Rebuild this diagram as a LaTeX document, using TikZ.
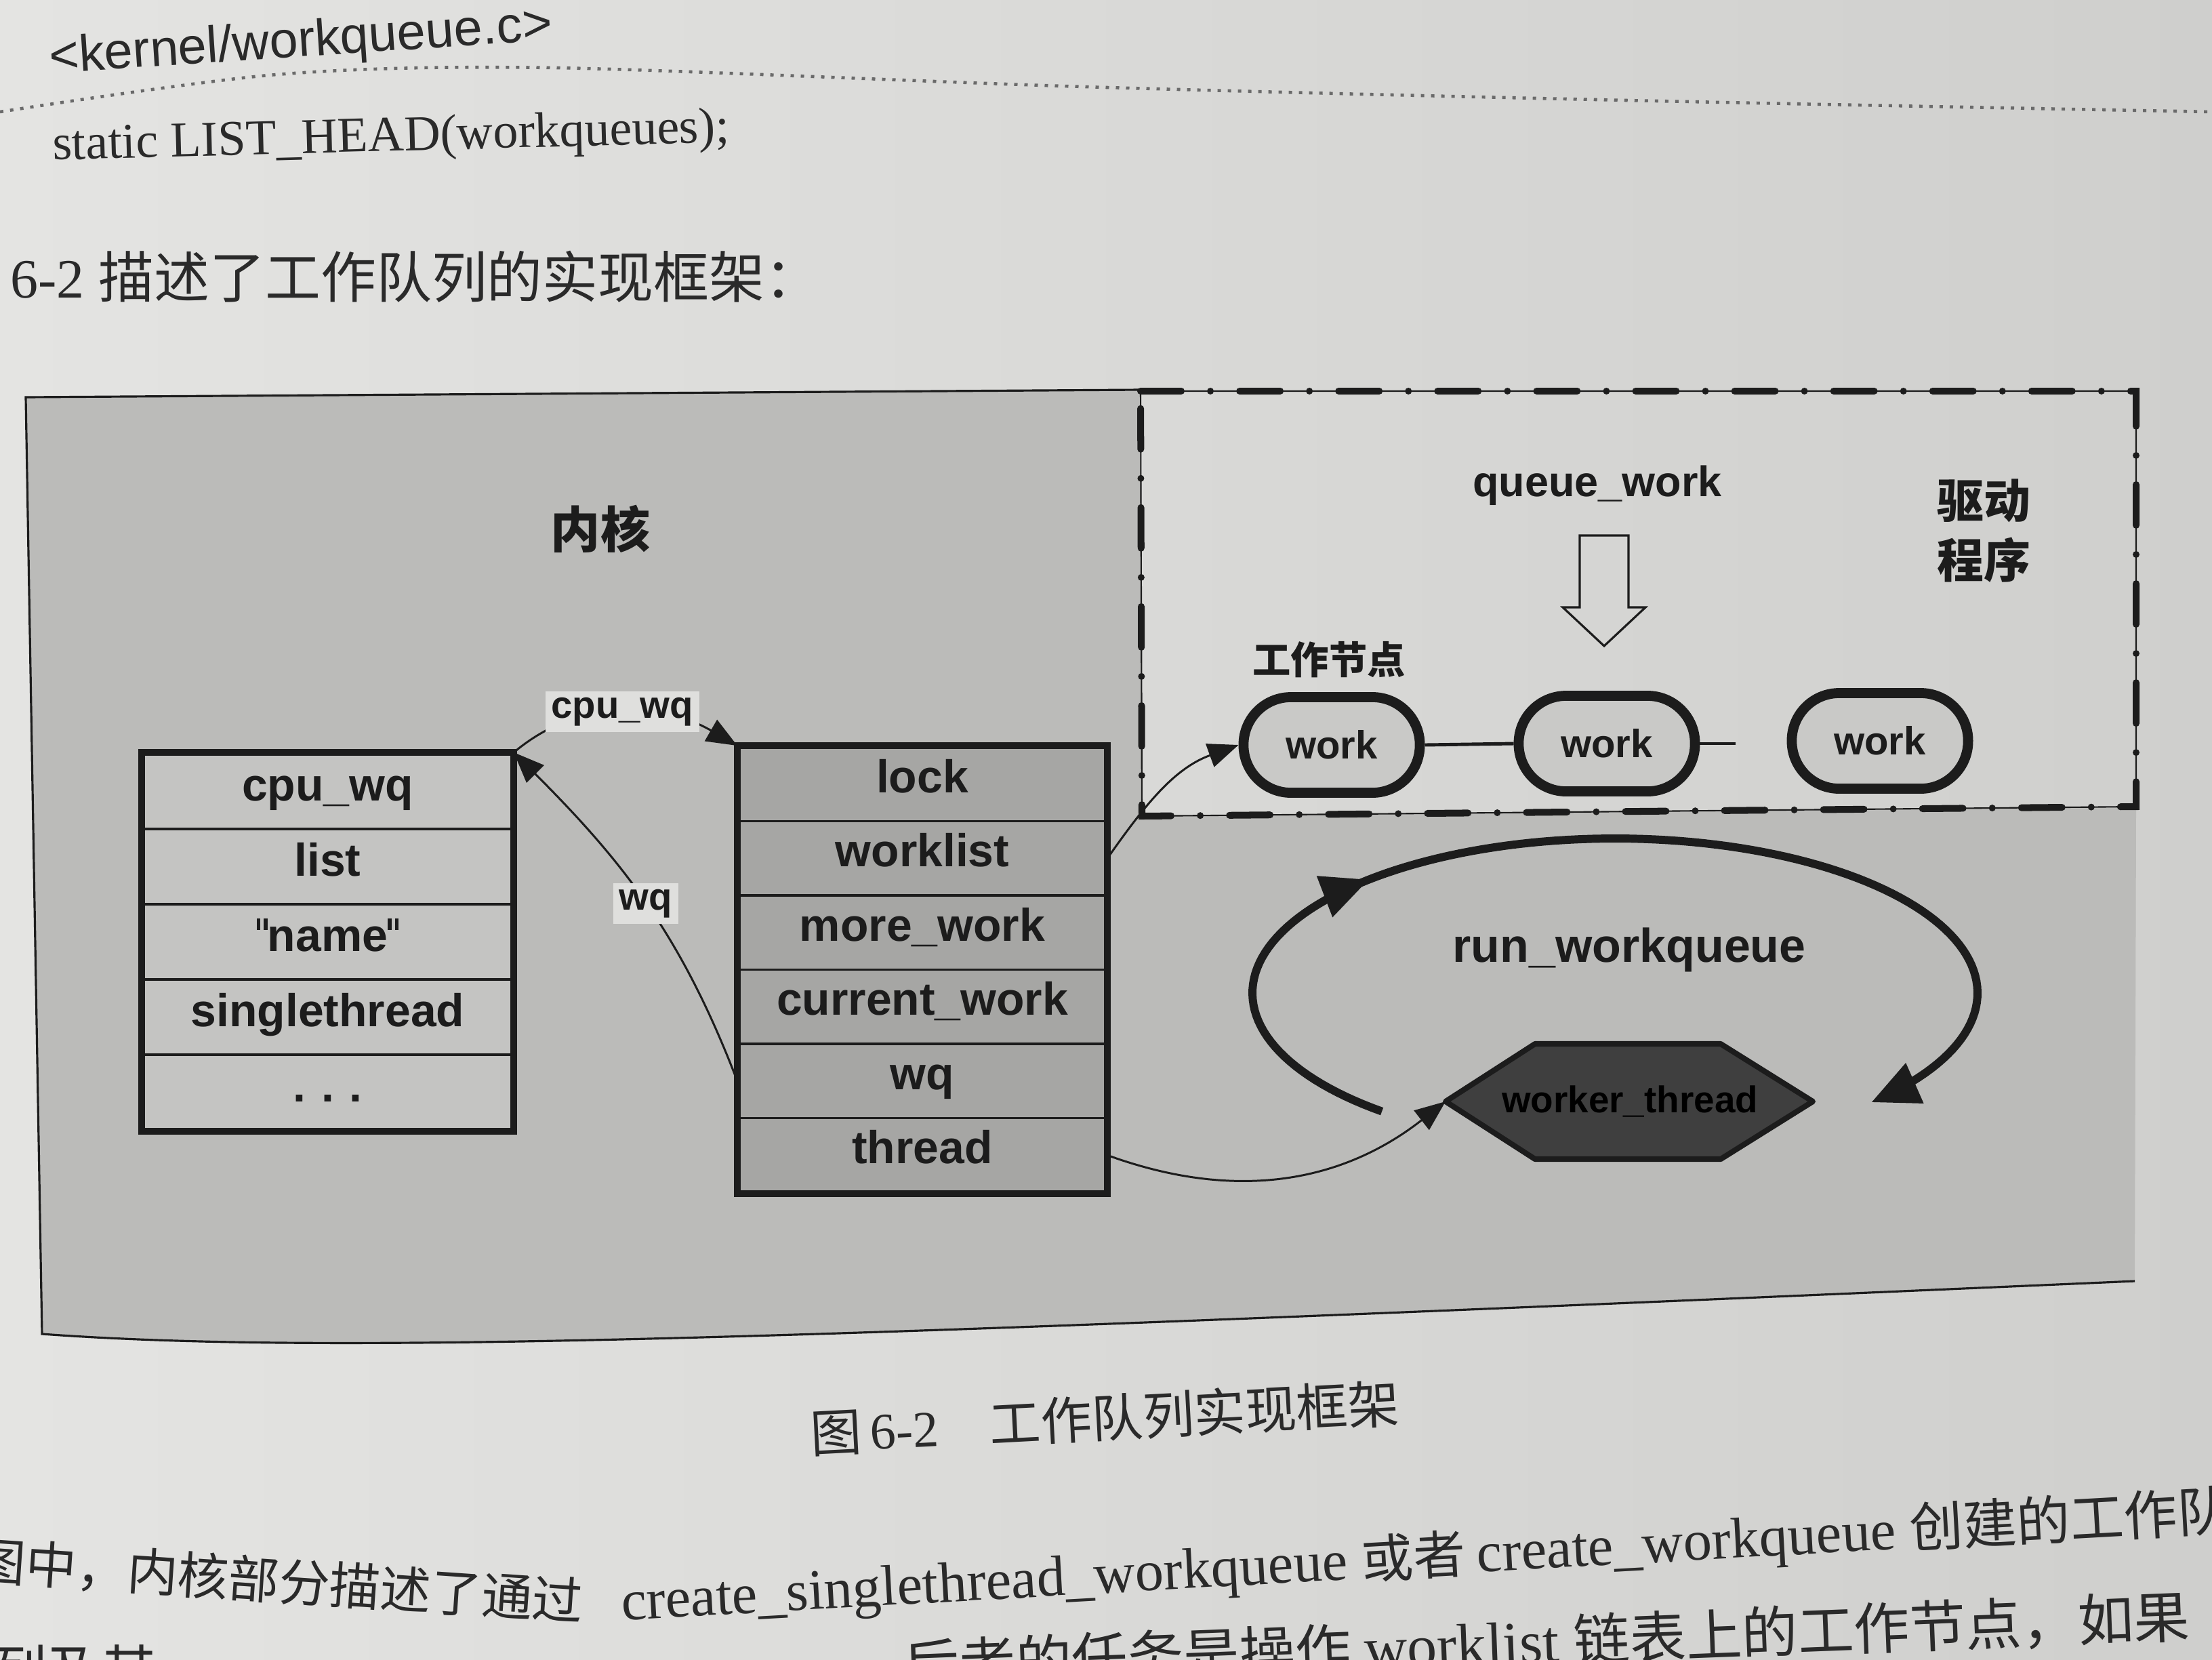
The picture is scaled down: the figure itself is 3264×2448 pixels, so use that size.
\documentclass[tikz,border=0pt]{standalone}
\usepackage{fontspec}
\setmainfont{Liberation Sans}
\newfontfamily\cjk{Noto Sans CJK SC}
\newfontfamily\serifrm{Liberation Serif}
\usetikzlibrary{arrows.meta,calc,decorations.markings}

\definecolor{paperL}{HTML}{E4E4E2}
\definecolor{paperR}{HTML}{CFCFCD}
\definecolor{kernelgray}{HTML}{BBBBB9}
\definecolor{structgray}{HTML}{C4C4C2}
\definecolor{cpugray}{HTML}{A6A6A4}
\definecolor{workgray}{HTML}{C9C9C7}
\definecolor{threadgray}{HTML}{3F3F3F}
\definecolor{labelbg}{HTML}{DFDFDD}
\definecolor{ink}{HTML}{1C1C1C}
\definecolor{printink}{HTML}{2A2A2A}

% straight double quote, drawn as two short bars
\newcommand\straightquote{\rule[0.47em]{0.085em}{0.25em}\hspace{0.07em}\rule[0.47em]{0.085em}{0.25em}}

\begin{document}
\begin{tikzpicture}[x=0.01cm, y=-0.01cm,
  rowL/.style={draw=ink, line width=1.1pt, fill=structgray,
    minimum width=5.45cm, minimum height=1.11cm, inner sep=0pt, text=ink,
    font=\fontsize{19.3pt}{23pt}\selectfont\bfseries,
    text height=1.02em, text depth=0.2em},
  rowR/.style={rowL, fill=cpugray, minimum width=5.42cm, minimum height=1.095cm,
    text height=0.9em, text depth=0.2em},
  workbox/.style={draw=ink, line width=4.2pt, fill=workgray, rounded corners=0.7cm,
    minimum width=2.6cm, minimum height=1.41cm, inner sep=0pt, text=ink,
    font=\fontsize{16.5pt}{20pt}\selectfont\bfseries},
  ptr/.style={draw=ink, line width=0.85pt, -{Triangle[length=0.45cm,width=0.36cm]}},
  tag/.style={fill=labelbg, inner sep=2.5pt, text=ink,
    font=\fontsize{16pt}{19pt}\selectfont\bfseries},
  boldlabel/.style={text=ink, inner sep=0pt},
  page/.style={text=printink, inner sep=0pt}
]
\useasboundingbox (0,0) rectangle (3264,2448);
\clip (0,0) rectangle (3264,2448);

% paper
\shade[left color=paperL, right color=paperR] (0,0) rectangle (3264,2448);

% ---- printed text above the figure ----
\node[page, rotate=3.8, font=\fontsize{21.5pt}{26pt}\selectfont] (hdr) at (444,64) {<kernel/workqueue.c>};
\draw[printink!70, line width=1.3pt, dash pattern=on 0.05cm off 0.1cm]
  plot[smooth] coordinates {(0,165) (408,110) (816,100) (1600,128) (2400,148) (3264,165)};
\node[page, rotate=1.5, font=\serifrm\fontsize{21pt}{25pt}\selectfont] (code) at (577,205) {static LIST\_HEAD(workqueues);};
\node[page, anchor=west, font=\fontsize{23.3pt}{28pt}\selectfont] (intro) at (15,408)
  {\serifrm 6-2 \cjk 描述了工作队列的实现框架：};

% ---- kernel area ----
\coordinate (D1) at (1683,577);
\coordinate (D2) at (3152,577);
\coordinate (D3) at (3152,1190);
\coordinate (D4) at (1685,1204);
\fill[kernelgray] (38,586) -- (1683,575) -- (D4) -- (D3) -- (3150,1890)
  .. controls (1200,1975) and (500,2000) .. (62,1968) -- cycle;
\draw[ink, line width=0.9pt] (3150,1890) .. controls (1200,1975) and (500,2000) .. (62,1968)
  -- (38,586) -- (1683,575);

% driver area outline: thin rule under a dash-dot stroke
\draw[ink, line width=0.6pt] (D1) -- (D2) -- (D3) -- (D4) -- cycle;
\draw[ink, line width=2.85pt, line cap=round,
  dash pattern=on 0.6cm off 0.43cm on 0cm off 0.43cm] (D1) -- (D2) -- (D3) -- (D4) -- cycle;

\node[boldlabel, font=\cjk\bfseries\fontsize{20.8pt}{25pt}\selectfont] (kern) at (886,780) {内核};
\node[boldlabel, align=center, font=\cjk\bfseries\fontsize{19.6pt}{25pt}\selectfont] (drv) at (2927,783) {驱动\\程序};

% workqueue_struct
\node[rowL] (L1) at (483.5,1167.5) {cpu\_wq};
\node[rowL] (L2) at (483.5,1278.5) {list};
\node[rowL] (L3) at (483.5,1389.5) {\straightquote name\straightquote};
\node[rowL] (L4) at (483.5,1500.5) {singlethread};
\node[rowL] (L5) at (483.5,1611.5) {.\,\,.\,\,.};
\draw[ink, line width=2.85pt] (L1.north west) rectangle (L5.south east);

% cpu_workqueue_struct
\node[rowR] (R1) at (1361,1156.75) {lock};
\node[rowR] (R2) at (1361,1266.25) {worklist};
\node[rowR] (R3) at (1361,1375.75) {more\_work};
\node[rowR] (R4) at (1361,1485.25) {current\_work};
\node[rowR] (R5) at (1361,1594.75) {wq};
\node[rowR] (R6) at (1361,1704.25) {thread};
\draw[ink, line width=2.85pt] (R1.north west) rectangle (R6.south east);

% pointers between the two structures
\draw[ptr] (L1.north east) to[out=40,in=150] node[tag] (cpulbl) {cpu\_wq} (R1.north west);
\draw[ptr] (R5.west) to[out=111,in=-45] node[tag] (wqlbl) {wq} (L1.north east);

% queue_work and the list of work nodes
\node[boldlabel, font=\fontsize{17.9pt}{21pt}\selectfont\bfseries] (qw) at (2357,716) {queue\_work};
\coordinate (qa) at (2367,790);
\draw[ink, line width=0.9pt, line join=miter, shift={(qa)}]
  (-36,0) -- (36,0) -- (36,106) -- (61,106) -- (0,163) -- (-61,106) -- (-36,106) -- cycle;
\node[boldlabel, font=\cjk\bfseries\fontsize{16pt}{19pt}\selectfont] (node) at (1961,973) {工作节点};

\node[workbox] (W1) at (1965,1099) {work};
\node[workbox] (W2) at (2371,1097) {work};
\node[workbox] (W3) at (2774,1093) {work};
\coordinate (stub) at ($(W2.east)+(52,0)$);
\draw[ink, line width=1.4pt] (W1.east) -- (W2.west);
\draw[ink, line width=1.4pt] (W2.east) -- (stub);

\draw[ptr] (R2.east) to[out=55,in=200] (W1.west);

% worker thread and its loop
\coordinate (wtc) at (2405,1625);
\filldraw[draw=ink, fill=threadgray, line width=2.3pt, line join=round, shift={(wtc)}]
  (-272,0) -- (-140,-85) -- (134,-85) -- (270,0) -- (134,85) -- (-140,85) -- cycle;
\node[text=black, inner sep=0pt, font=\fontsize{15.6pt}{19pt}\selectfont\bfseries] (wt) at (wtc) {worker\_thread};
\coordinate (wtL) at ($(wtc)+(-272,0)$);

\draw[ptr] (R6.east) to[out=-20,in=218] (wtL);

\node[boldlabel, font=\fontsize{19.9pt}{24pt}\selectfont\bfseries] (rw) at (2404,1401) {run\_workqueue};
\draw[ink, line width=3.4pt, -{Triangle[length=0.7cm,width=0.62cm]},
  postaction={decorate},
  decoration={markings, mark=at position 0.3 with {\arrow{Triangle[length=0.7cm,width=0.62cm]}}}]
  plot[domain=0:275, samples=140] ({2383+535*cos(230-\x)}, {1465-228*sin(230-\x)});

% ---- caption and body text ----
\node[page, rotate=3, font=\fontsize{21.5pt}{26pt}\selectfont] (cap) at (1630,2092)
  {\cjk 图\,\serifrm 6-2\quad\cjk 工作队列实现框架};
\node[page, anchor=west, rotate=-3.9, font=\cjk\fontsize{21.3pt}{26pt}\selectfont] (bodyA) at (-37,2302)
  {图中，内核部分描述了通过};
\node[page, anchor=west, rotate=3.2, font=\fontsize{21.8pt}{26pt}\selectfont] (bodyB) at (916,2366)
  {\serifrm\fontsize{24pt}{26pt}\selectfont create\_singlethread\_workqueue \cjk\fontsize{21.8pt}{26pt}\selectfont 或者 \serifrm\fontsize{24pt}{26pt}\selectfont create\_workqueue \cjk\fontsize{22.5pt}{26pt}\selectfont 创建的工作队};
\node[page, anchor=west, font=\cjk\fontsize{23pt}{27pt}\selectfont] (bodyC) at (-12,2464) {列及其};
\node[page, anchor=west, rotate=2.2, font=\cjk\fontsize{23.5pt}{28pt}\selectfont] (bodyD) at (1333,2458)
  {后者的任务是操作 \serifrm\fontsize{25pt}{28pt}\selectfont worklist \cjk\fontsize{23.5pt}{28pt}\selectfont 链表上的工作节点，如果};
\end{tikzpicture}
\end{document}
